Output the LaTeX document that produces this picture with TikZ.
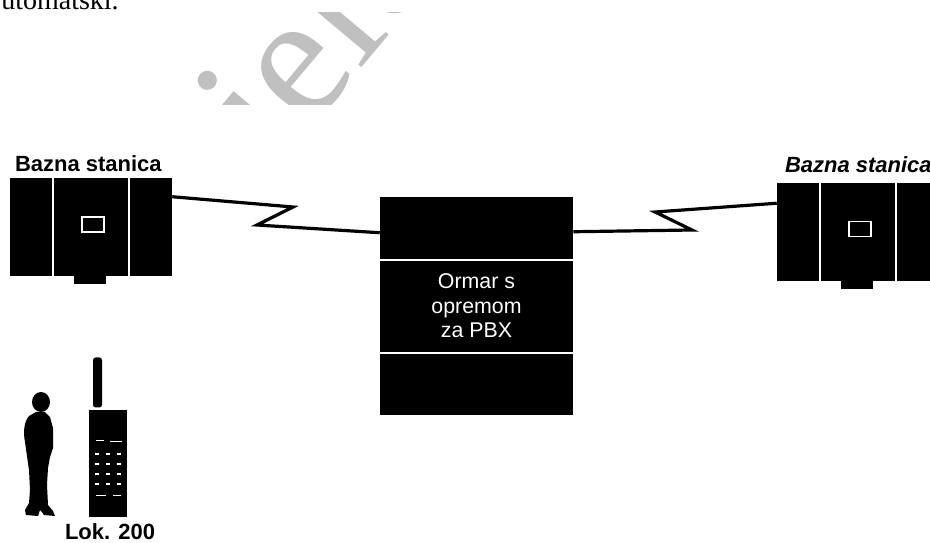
\documentclass[tikz,border=0pt]{standalone}
\usepackage{fontspec}
\setmainfont{Liberation Serif}
\setsansfont{Liberation Sans}
\usetikzlibrary{positioning}
\definecolor{wmark}{HTML}{C0C0C0}
\tikzset{box/.style={fill=black,inner sep=0pt},
         title/.style={font=\sffamily\bfseries\fontsize{16.5}{18}\selectfont,inner sep=0pt},
         link/.style={line width=2.4pt,line join=miter},
         seam/.style={white,line width=1.2pt},
         station/.pic={
           \node[box,minimum width=121.5pt,minimum height=73.5pt](-box)at(0,0){};
           \fill (-17,48) rectangle (15,57);
           \draw[seam](-38,-49)--(-38,49) (38,-49)--(38,49);
           \draw[white,line width=.8pt](-9,-10) rectangle (13,5);
         }}

\begin{document}
\begin{tikzpicture}[x=0.75pt,y=-0.75pt]
        \useasboundingbox (0,0) rectangle (930,542);
        \clip (0,0) rectangle (930,542);

        \node[font=\fontsize{21}{24}\selectfont,anchor=base west,inner sep=0pt](note)at(1,10){utomatski.};
        \begin{scope}
            \clip (0,13) rectangle (930,104);
            \node[wmark,font=\fontsize{135}{135}\selectfont,anchor=base west,inner sep=0pt,rotate=50](wm)at(276,170){iele};
        \end{scope}

        % base stations and the cabinet
        \pic (bsl) at (91,227) {station};
        \pic (bsr) at (858,231.5) {station};
        \node[title,above right=4.5pt and 3.75pt of bsl-box.north west](bsltxt){Bazna stanica};
        \node[title,above right=6.75pt and 6pt of bsr-box.north west](bsrtxt){\itshape Bazna stanica};

        \node[box,minimum width=144.75pt,minimum height=163.5pt](pbx)at(476.5,306){};
        \draw[seam](380,260)--(573,260) (380,353)--(573,353);
        \node[white,font=\sffamily\fontsize{16}{18.4}\selectfont,align=center](pbxtxt)at(476.5,306){Ormar s\\opremom\\za PBX};

        % radio links
        \coordinate (l1) at (293,207);
        \coordinate (l2) at (257,225);
        \draw[link]([yshift=-14.25pt]bsl-box.north east)--(l1)--(l2)--([yshift=-27pt]pbx.north west);
        \coordinate (r1) at (692,230);
        \coordinate (r2) at (655,212);
        \draw[link]([yshift=-26.25pt]pbx.north east)--(r1)--(r2)--([yshift=-15.75pt]bsr-box.north west);

        % man and handset
        \fill (41,402) ellipse [x radius=6.75pt, y radius=7.5pt];
        \fill (36,412)--(29,416) .. controls (24,422) and (23,432) .. (25,442)--(27,456)--(29,470)--(30,490)
              --(29,503)--(25,510)--(26,515)--(38,516)--(40,510)--(42,512)--(44,515)--(55,516)--(53,511)
              --(48,505)--(47,485)--(48,468)--(50,457)--(53,448)--(53,428)--(50,417)--(45,412)--cycle;

        \node[box,minimum width=28.5pt,minimum height=80.25pt](phone)at(108,463.5){};
        \node[box,rounded corners=2pt,minimum width=6.75pt,minimum height=37.5pt,above right=1.5pt and 3pt of phone.north west](ant){};
        \foreach \r in {453,463,473,483}
            \foreach \c in {97,108,119}
                \fill[white](\c-2,\r) rectangle (\c+2,\r+1.5);
        \draw[white,line width=.6pt](96,440)--(104,440) (110,441)--(122,441) (96,495)--(106,495) (113,495)--(121,495);
        \node[title,below right=4.5pt and -18pt of phone.south west](lok){Lok. 200};
    \end{tikzpicture}
\end{document}
